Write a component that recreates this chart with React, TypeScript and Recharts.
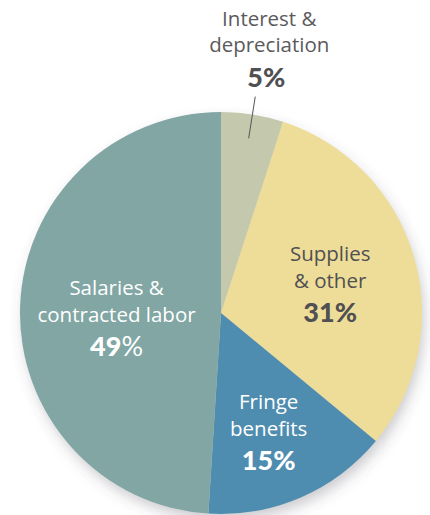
import { PieChart, Pie, Cell } from 'recharts';

const categories = ['Interest & depreciation', 'Supplies & other', 'Fringe benefits', 'Salaries & contracted labor'];
const labelLines = [
  ['Interest &', 'depreciation'],
  ['Supplies', '& other'],
  ['Fringe', 'benefits'],
  ['Salaries &', 'contracted labor'],
];
const shares = [5, 31, 15, 49];

const data = categories.map((name, i) => ({ name, value: shares[i] }));

const COLORS = ['#c4c9ae', '#eedd98', '#4f8db0', '#81a6a4'];
const TEXT = ['#5a5a5c', '#505052', '#ffffff', '#ffffff'];
const FONT = '"Open Sans", Lato, sans-serif';
const NUM_FONT = 'Lato, "Open Sans", sans-serif';
const RAD = Math.PI / 180;

// label placement per slice: radius as share of outer radius, and nudges
const LABEL_R = [1.09, 0.55, 0.66, 0.52];
const LABEL_DX = [0, 3, -5, 0];
const LABEL_DY = [0, 6, 1, 12];

const renderLabel = (props: any) => {
  const { cx, cy, midAngle, outerRadius, index } = props;
  const cos = Math.cos(-midAngle * RAD);
  const sin = Math.sin(-midAngle * RAD);
  const lines = labelLines[index];
  const pct = `${shares[index]}`;

  if (index === 0) {
    const x1 = cx + outerRadius * 0.88 * cos;
    const y1 = cy + outerRadius * 0.88 * sin;
    const x2 = cx + outerRadius * 1.09 * cos;
    const y2 = cy + outerRadius * 1.09 * sin;
    const tx = x2 + 14;
    return (
      <g>
        <line x1={x1} y1={y1} x2={x2} y2={y2} stroke="#555" strokeWidth={1} />
        <text textAnchor="middle" fontFamily={FONT} fill={TEXT[0]} fontSize={20.5}>
          <tspan x={tx} y={y2 - 71}>{lines[0]}</tspan>
          <tspan x={tx} y={y2 - 45}>{lines[1]}</tspan>
        </text>
        <text x={tx - 3} y={y2 - 10} textAnchor="middle" fontFamily={NUM_FONT} fill="#505052" fontSize={27} fontWeight={900}>
          {pct}%
        </text>
      </g>
    );
  }

  const r = outerRadius * LABEL_R[index];
  const x = cx + r * cos + LABEL_DX[index];
  const y = cy + r * sin + LABEL_DY[index];
  return (
    <g>
      <text textAnchor="middle" fontFamily={FONT} fill={TEXT[index]} fontSize={20.5}>
        <tspan x={x} y={y - 27}>{lines[0]}</tspan>
        <tspan x={x} y={y}>{lines[1]}</tspan>
      </text>
      <text x={x} y={y + 34} textAnchor="middle" fontFamily={NUM_FONT} fill={TEXT[index]} fontSize={27}>
        <tspan fontWeight={900}>{pct}</tspan>
        <tspan fontWeight={index === 3 ? 400 : 900}>%</tspan>
      </text>
    </g>
  );
};

const pieProps = {
  data,
  dataKey: 'value',
  nameKey: 'name',
  cx: 221,
  cy: 313,
  outerRadius: 201,
  startAngle: 90,
  endAngle: -270,
  stroke: 'none',
  labelLine: false,
  isAnimationActive: false,
};

const App = () => (
  <div style={{ position: 'absolute', left: 0, top: 0, width: 430, height: 515, background: '#fff' }}>
    {/* soft shadow behind the pie */}
    <div style={{ position: 'absolute', left: 0, top: 0 }}>
      <PieChart width={430} height={515} margin={{ top: 0, right: 0, bottom: 0, left: 0 }}>
        <defs>
          <filter id="pieShadow" x="-20%" y="-20%" width="140%" height="140%">
            <feGaussianBlur stdDeviation="7" />
          </filter>
        </defs>
        <Pie {...pieProps} cx={224} cy={320} outerRadius={200} label={false}>
          {data.map((d) => (
            <Cell key={d.name} fill="#50505a" fillOpacity={0.3} filter="url(#pieShadow)" />
          ))}
        </Pie>
      </PieChart>
    </div>
    {/* the pie and its labels */}
    <div style={{ position: 'absolute', left: 0, top: 0 }}>
      <PieChart width={430} height={515} margin={{ top: 0, right: 0, bottom: 0, left: 0 }}>
        <Pie {...pieProps} label={renderLabel}>
          {data.map((d, i) => (
            <Cell key={d.name} fill={COLORS[i]} />
          ))}
        </Pie>
      </PieChart>
    </div>
  </div>
);

export default App;
